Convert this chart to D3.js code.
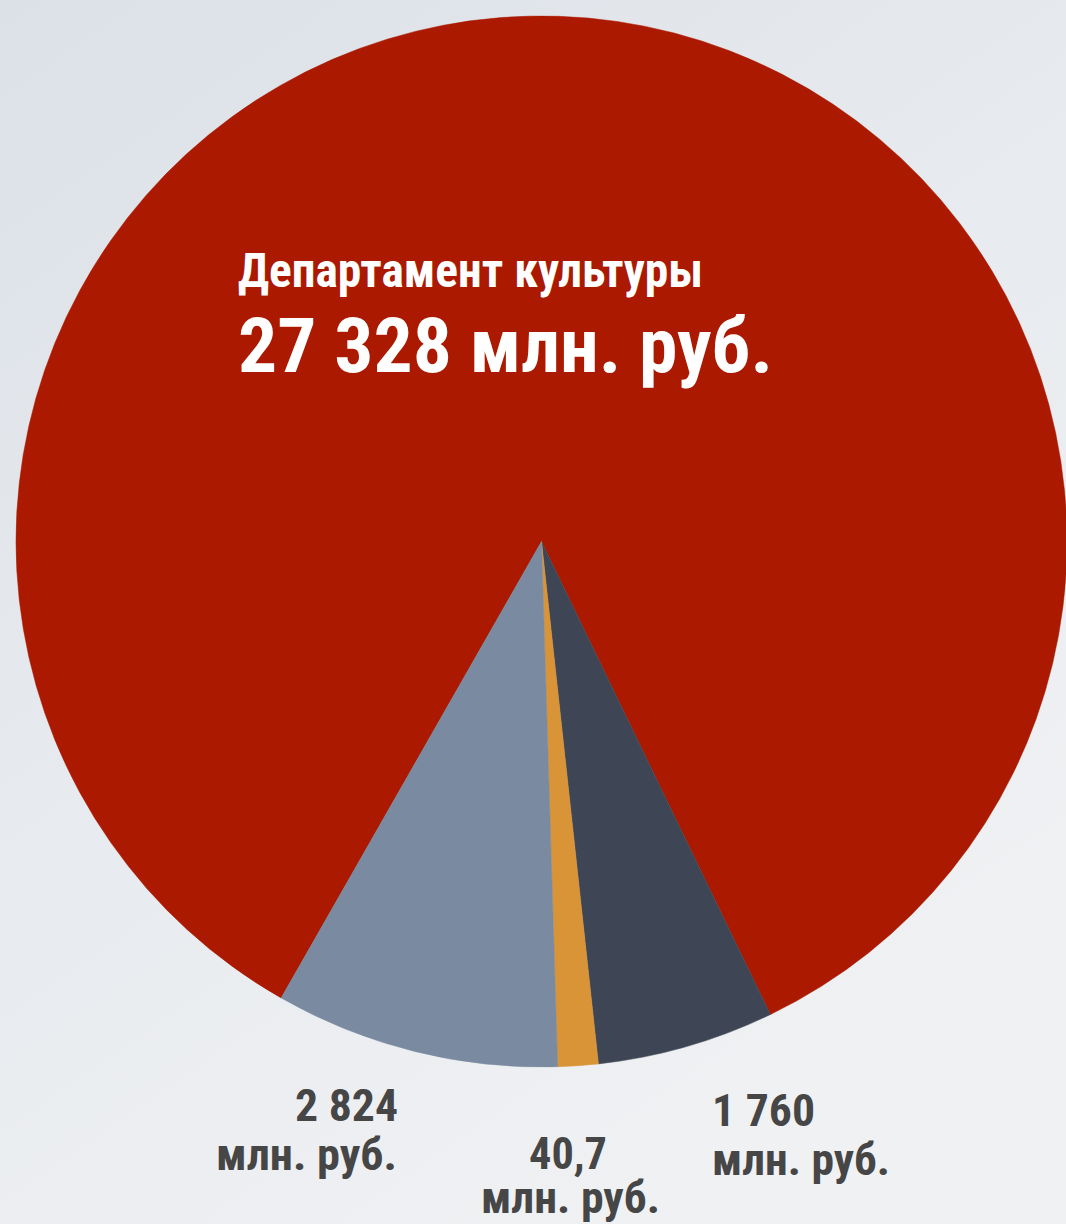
<!DOCTYPE html>
<html>
<head>
<meta charset="utf-8">
<script src="https://cdn.jsdelivr.net/npm/d3@7"></script>
<style>
  html, body { margin: 0; padding: 0; background: #e9ecef; }
  svg { display: block; }
</style>
</head>
<body>
<svg id="chart" width="1066" height="1224"></svg>
<script>
// ---- data ----
const categories = ["Департамент культуры", "slate", "orange", "gray"];
const values = [27328, 1760, 40.7, 2824];            // млн. руб.
const valueLabels = ["27 328", "1 760", "40,7", "2 824"];
// the reference draws the tiny 40,7 slice at a minimum visible width (~400)
const drawnWeights = [27328, 1760, 400, 2824];
const unitLabel = "млн. руб.";
const colors = ["#aa1900", "#3e4655", "#d99438", "#7a8aa0"];

// ---- layout ----
const W = 1066, H = 1224;
const cx = 541.5, cy = 541.5, R = 525.5;
const startDeg = 209.7;

const svg = d3.select("#chart");
const defs = svg.append("defs");
const bg = defs.append("linearGradient").attr("id", "bg")
  .attr("x1", "0").attr("y1", "0").attr("x2", "0.6").attr("y2", "1");
bg.append("stop").attr("offset", "0").attr("stop-color", "#dce1e7");
bg.append("stop").attr("offset", "0.55").attr("stop-color", "#e8ebef");
bg.append("stop").attr("offset", "1").attr("stop-color", "#f0f1f3");
svg.append("rect").attr("width", W).attr("height", H).attr("fill", "url(#bg)");

const data = categories.map((c, i) => ({ name: c, value: values[i], weight: drawnWeights[i], color: colors[i], label: valueLabels[i] }));

const pie = d3.pie().sort(null).value(d => d.weight)
  .startAngle(startDeg * Math.PI / 180)
  .endAngle(startDeg * Math.PI / 180 + 2 * Math.PI);
const arc = d3.arc().innerRadius(0).outerRadius(R);

const g = svg.append("g").attr("transform", `translate(${cx},${cy})`);
g.selectAll("path").data(pie(data)).join("path")
  .attr("d", arc)
  .attr("fill", d => d.data.color)
  .attr("stroke", d => d.data.color)
  .attr("stroke-width", 0.5);

const FONT = "'Liberation Sans Narrow','Roboto Condensed','DejaVu Sans Condensed','Liberation Sans',sans-serif";

function txt(x, y, s, size, fill, len) {
  svg.append("text")
    .attr("x", x).attr("y", y)
    .attr("font-family", FONT)
    .attr("font-weight", "bold")
    .attr("font-size", size)
    .attr("fill", fill)
    .attr("textLength", len)
    .attr("lengthAdjust", "spacingAndGlyphs")
    .text(s);
}

// main label
txt(238, 287, data[0].name, 48, "#ffffff", 465);
txt(238, 372, data[0].label + " " + unitLabel, 76, "#ffffff", 535);

// outer labels
const dark = "#464646";
// gray slice (2 824)
txt(295, 1121, data[3].label, 44, dark, 103);
txt(216, 1170, unitLabel, 44, dark, 181);
// orange slice (40,7)
txt(529, 1169, data[2].label, 44, dark, 78);
txt(481, 1213, unitLabel, 44, dark, 179);
// slate slice (1 760)
txt(712, 1126, data[1].label, 44, dark, 103);
txt(712, 1175, unitLabel, 44, dark, 178);
</script>
</body>
</html>
